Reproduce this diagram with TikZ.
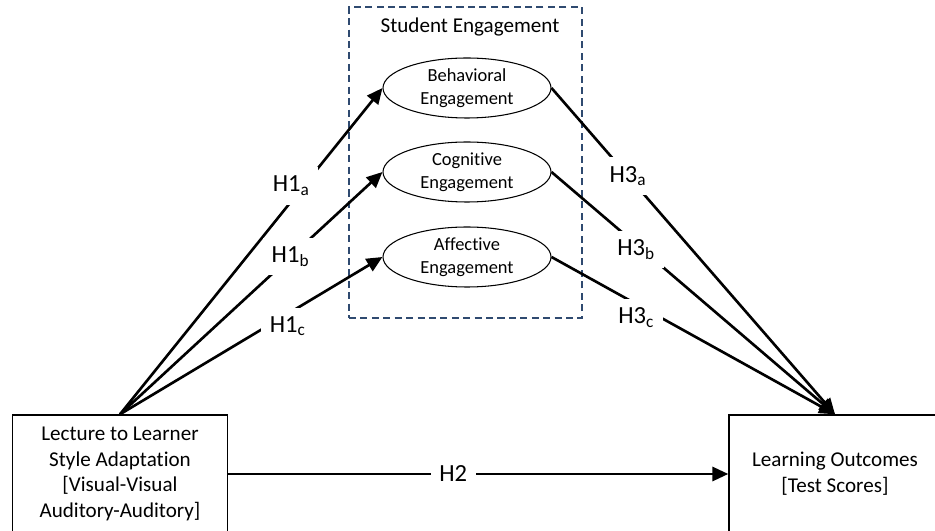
\documentclass[tikz,border=0pt]{standalone}
\usepackage{fontspec}
\setmainfont{Carlito}[Ligatures=NoCommon]
\usetikzlibrary{arrows.meta,positioning,shapes.geometric}
\definecolor{dashblue}{HTML}{2F4A70}
\tikzset{%
    construct/.style={%
        rectangle, draw, line width=0.8pt, minimum width=4.3cm, minimum height=2.36cm, align=center, font=\fontsize{12}{14.7}\selectfont
    },
    factor/.style={%
        ellipse, draw, line width=0.6pt, minimum width=3.36cm, minimum height=1.2cm, inner sep=0pt, align=center, font=\fontsize{10.5}{13}\selectfont
    },
    group/.style={%
        draw=dashblue, dashed, dash pattern=on 4pt off 2.5pt, line width=0.9pt, minimum width=4.66cm, minimum height=6.22cm
    },
    path_line/.style={%
        line width=1.5pt, -{Triangle[length=9pt,width=8pt]}
    },
    hyp/.style={%
        fill=white, inner sep=5pt, font=\fontsize{14}{16}\selectfont
    },
}

\begin{document}
\begin{tikzpicture}
      \useasboundingbox (0,0) rectangle (18.7,10.62);
      \node[group] (engbox) at (9.31,7.37) {};
      \node[font=\fontsize{12}{14}\selectfont] (title) at (9.4,10.08) {Student Engagement};
      \node[factor] (beh) at (9.34,8.86) {Behavioral\\Engagement};
      \node[factor] (cog) at (9.34,7.18) {Cognitive\\Engagement};
      \node[factor] (aff) at (9.34,5.48) {Affective\\Engagement};

      \node[construct] (lecture) at (2.4,1.14) {Lecture to Learner\\Style Adaptation\\{[Visual-Visual}\\{Auditory-Auditory]}};
      \node[construct, minimum width=4.24cm] (outcomes) at (16.7,1.14) {Learning Outcomes\\{[Test Scores]}};

      % H1: adaptation -> engagement
      \draw[path_line] (lecture.north) -- (beh.west) node[hyp, pos=0.7, xshift=-0.25cm]{H1\textsubscript{a}};
      \draw[path_line] (lecture.north) -- (cog.west) node[hyp, pos=0.65]{H1\textsubscript{b}};
      \draw[path_line] (lecture.north) -- (aff.west) node[hyp, pos=0.63, xshift=0.05cm, yshift=-0.22cm]{H1\textsubscript{c}};

      % H3: engagement -> outcomes
      \draw[path_line] (beh.east) -- (outcomes.north) node[hyp, pos=0.27]{H3\textsubscript{a}};
      \draw[path_line] (cog.east) -- (outcomes.north) node[hyp, pos=0.32, xshift=-0.12cm]{H3\textsubscript{b}};
      \draw[path_line] (aff.east) -- (outcomes.north) node[hyp, pos=0.32, xshift=-0.12cm, yshift=-0.2cm]{H3\textsubscript{c}};

      % H2: direct effect
      \draw[path_line] (lecture.east) -- (outcomes.west) node[hyp, pos=0.45]{H2};
    \end{tikzpicture}
\end{document}
